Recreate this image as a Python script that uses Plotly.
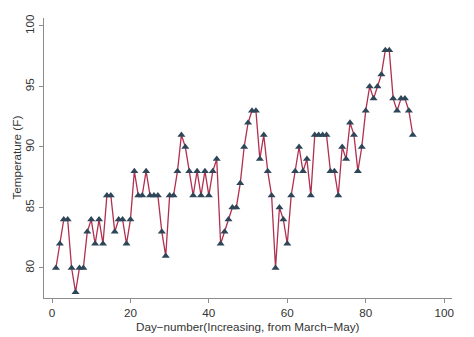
import plotly.graph_objects as go

days = list(range(1, 93))
temps = [80, 82, 84, 84, 80, 78, 80, 80, 83, 84,
         82, 84, 82, 86, 86, 83, 84, 84, 82, 84,
         88, 86, 86, 88, 86, 86, 86, 83, 81, 86,
         86, 88, 91, 90, 88, 86, 88, 86, 88, 86,
         88, 89, 82, 83, 84, 85, 85, 87, 90, 92,
         93, 93, 89, 91, 88, 86, 80, 85, 84, 82,
         86, 88, 90, 88, 89, 86, 91, 91, 91, 91,
         88, 88, 86, 90, 89, 92, 91, 88, 90, 93,
         95, 94, 95, 96, 98, 98, 94, 93, 94, 94,
         93, 91]
x_ticks = [0, 20, 40, 60, 80, 100]
y_ticks = [80, 85, 90, 95, 100]

fig = go.Figure()
fig.add_trace(go.Scatter(
    x=days, y=temps, mode="lines+markers",
    line=dict(color="#b0304f", width=1.3),
    marker=dict(symbol="triangle-up", size=7, color="#2e4657"),
))

font = dict(family="Liberation Sans, Arial, sans-serif", size=11.7, color="#333333")
fig.update_layout(
    width=474, height=337,
    margin=dict(l=44, r=22, t=18, b=39),
    paper_bgcolor="white", plot_bgcolor="white",
    showlegend=False,
    font=font,
    xaxis=dict(range=[-2.04, 102], tickvals=x_ticks, showgrid=False, zeroline=False,
               showline=True, linecolor="#8c8c8c", linewidth=1, automargin=False,
               ticks="outside", ticklen=4, tickcolor="#8c8c8c", ticklabelstandoff=0),
    yaxis=dict(range=[77.52, 100.66], tickvals=y_ticks, showgrid=False, zeroline=False,
               showline=True, linecolor="#8c8c8c", linewidth=1, automargin=False,
               ticks="outside", ticklen=4, tickcolor="#8c8c8c", tickangle=-90),
    annotations=[
        dict(text="Day\u2212number(Increasing, from March\u2212May)", xref="paper", yref="paper",
             x=0.5, y=0, yshift=-20, xanchor="center", yanchor="top", showarrow=False, font=font),
        dict(text="Temperature (F)", xref="paper", yref="paper", textangle=-90,
             x=0, y=0.5, xshift=-20, xanchor="right", yanchor="middle", showarrow=False, font=font),
    ],
)
fig.write_html("out.html")
